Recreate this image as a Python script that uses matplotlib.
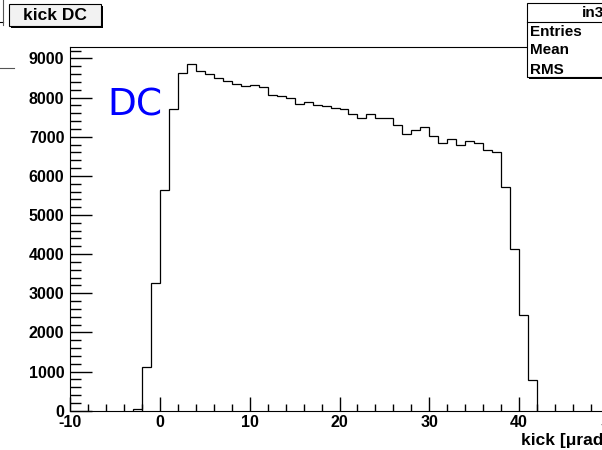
import numpy as np
import matplotlib
matplotlib.use("Agg")
import matplotlib.pyplot as plt
from matplotlib.patches import Rectangle
from matplotlib.lines import Line2D

# histogram contents, 1 unit bins starting at first_edge
first_edge = -3
counts = [45, 1110, 3270, 5640, 7700, 8630, 8850, 8680, 8600, 8510,
          8430, 8340, 8290, 8320, 8260, 8060, 8030, 7990, 7840, 7890,
          7810, 7780, 7740, 7720, 7590, 7470, 7590, 7470, 7490, 7300,
          7060, 7170, 7240, 7030, 6850, 6950, 6790, 6890, 6840, 6660,
          6600, 5720, 4140, 2450, 780]
x_range = (-10, 50)
y_max = 9300
x_major = [-10, 0, 10, 20, 30, 40, 50]
y_major = [0, 1000, 2000, 3000, 4000, 5000, 6000, 7000, 8000, 9000]
title = "kick DC"
xlabel = "kick [\u03bcrad]"
stats_name = "in3"
stats_rows = ["Entries", "Mean", "RMS"]
annotation = "DC"

W, H = 602, 450
FONT = "Liberation Sans"
plt.rcParams["axes.unicode_minus"] = False


def fx(px):
    return px / W


def fy(py):
    return 1 - py / H


fig = plt.figure(figsize=(W / 100, H / 100), dpi=100)
fig.patch.set_facecolor("white")

# frame runs past the right edge of the picture
ax = fig.add_axes([fx(70), fy(410.7), fx(609) - fx(70), fy(46.7) - fy(410.7)])
edges = np.arange(first_edge, first_edge + len(counts) + 1)
ax.stairs(counts, edges, color="black", linewidth=0.9, baseline=0)
ax.set_xlim(*x_range)
ax.set_ylim(0, y_max)

ax.set_xticks(x_major)
ax.set_xticks(np.arange(-10, 51, 2), minor=True)
ax.set_yticks(y_major)
ax.set_yticks(np.arange(0, 9300, 200), minor=True)
ax.tick_params(axis="x", which="major", direction="in", length=10, width=1,
               pad=3, labelsize=11.5)
ax.tick_params(axis="x", which="minor", direction="in", length=5, width=1)
ax.tick_params(axis="y", which="major", direction="in", length=16, width=1,
               pad=4, labelsize=11.5)
ax.tick_params(axis="y", which="minor", direction="in", length=8, width=1)
for lab in ax.get_xticklabels() + ax.get_yticklabels():
    lab.set_fontfamily(FONT)
    lab.set_fontweight("bold")
for sp in ax.spines.values():
    sp.set_linewidth(0.8)

ax.text(-5.8, 7800, annotation, color="#0000ff", fontsize=27,
        fontfamily="DejaVu Sans", ha="left", va="center")

fig.text(fx(609), fy(440), xlabel, ha="right", va="center", fontsize=12.5,
         fontweight="bold", fontfamily=FONT)

# title box
fig.add_artist(Rectangle((fx(11), fy(28)), fx(92), fy(0) - fy(22),
                         transform=fig.transFigure, facecolor="black",
                         edgecolor="none"))
fig.add_artist(Rectangle((fx(9), fy(26)), fx(92), fy(0) - fy(22),
                         transform=fig.transFigure, facecolor="#f2f2f2",
                         edgecolor="black", linewidth=0.8))
fig.text(fx(55), fy(15), title, ha="center", va="center", fontsize=12.5,
         fontweight="bold", fontfamily=FONT)

# stats box, cut by the right edge
fig.add_artist(Rectangle((fx(529), fy(78.5)), fx(120), fy(0) - fy(75),
                         transform=fig.transFigure, facecolor="black",
                         edgecolor="none"))
fig.add_artist(Rectangle((fx(527), fy(76.5)), fx(120), fy(0) - fy(73.5),
                         transform=fig.transFigure, facecolor="white",
                         edgecolor="black", linewidth=0.8))
fig.add_artist(Line2D([fx(527), fx(647)], [fy(21.7), fy(21.7)],
                      transform=fig.transFigure, color="black", linewidth=0.8))
fig.text(fx(582), fy(13), stats_name, ha="left", va="center", fontsize=11,
         fontweight="bold", fontfamily=FONT)
for i, row in enumerate(stats_rows):
    fig.text(fx(530), fy(31.5 + 19 * i), row, ha="left", va="center",
             fontsize=11, fontweight="bold", fontfamily=FONT)

# remains of the neighbouring pad's box at the left edge
fig.add_artist(Line2D([fx(0), fx(3)], [fy(21.7), fy(21.7)],
                      transform=fig.transFigure, color="black", linewidth=0.8))
fig.add_artist(Line2D([fx(2.5), fx(2.5)], [fy(0), fy(25)],
                      transform=fig.transFigure, color="#555555", linewidth=0.8))
fig.add_artist(Line2D([fx(0), fx(14)], [fy(68), fy(68)],
                      transform=fig.transFigure, color="#555555", linewidth=0.8))

fig.savefig("out.png", dpi=100)
